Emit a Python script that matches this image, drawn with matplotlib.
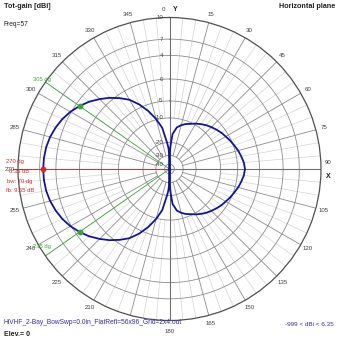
import numpy as np
import matplotlib
matplotlib.use("Agg")
import matplotlib.pyplot as plt

plt.rcParams['font.family'] = ['Liberation Sans', 'DejaVu Sans']

# ---- radiation pattern (horizontal plane, total gain in dBi) ----
azimuth_deg = [0, 1, 2, 3, 5, 10, 15, 20, 25, 30, 35, 40, 45, 50, 55, 60, 65, 70, 75, 80, 85,
               90, 95, 100, 105, 110, 115, 120, 125, 130, 135, 140, 145, 150, 155, 160, 165,
               170, 175, 177, 178, 179, 180, 181, 182, 183, 185, 190, 195, 200, 205, 210,
               215, 220, 225, 230, 235, 240, 245, 250, 255, 260, 265, 270, 275, 280, 285,
               290, 295, 300, 305, 310, 315, 320, 325, 330, 335, 340, 345, 350, 355, 357,
               358, 359, 360]
gain_dbi = [-999, -30, -24.5, -21, -16.5, -13.6, -12.3, -11.3, -10.5, -9.6, -8.9, -8.2, -7.6,
            -7.0, -6.4, -5.9, -5.3, -4.8, -4.3, -3.9, -3.5,
            -3.3, -3.5, -3.9, -4.3, -4.8, -5.3, -5.9, -6.4, -7.0, -7.6, -8.2, -8.9, -9.6,
            -10.5, -11.3, -12.3, -13.6, -16.5, -21, -24.5, -30, -999, -33, -27, -24, -20.5,
            -13.8, -9.8, -6.9, -4.3, -2.3, -0.8, 0.5, 1.5, 2.5, 3.35, 4.15, 4.85, 5.4, 5.85,
            6.15, 6.3, 6.35, 6.3, 6.15, 5.85, 5.4, 4.85, 4.15, 3.35, 2.5, 1.5, 0.5, -0.8,
            -2.3, -4.3, -6.9, -9.8, -13.8, -20.5, -24, -27, -33, -999]

# radial grid levels and angle labels (195 sits under the file name)
ring_levels = [-40, -30, -20, -10, -5, 0, 4, 7, 10]
ring_labels = ['-40', '-30', '-20', '-10', '-5', '0', '4', '7', '10']
angle_ticks = [a for a in range(0, 360, 15) if a != 195]

freq_mhz = 57
file_name = "HiVHF_2-Bay_BowSwp=0.0in_FlatRefl=56x96_Grid=2x4.out"
elevation = 0

# log-like radial scale: dBi level -> fraction of plot radius
SCALE_DB = [-999, -40, -30, -20, -10, -5, 0, 4, 7, 10]
SCALE_FR = [0.0, 0.032, 0.09, 0.175, 0.337, 0.449, 0.594, 0.75, 0.857, 1.0]


def fwd(v):
    return np.interp(v, SCALE_DB, SCALE_FR)


def inv(v):
    return np.interp(v, SCALE_FR, SCALE_DB)


gain = np.array(gain_dbi)
theta = np.radians(azimuth_deg)
peak_i = int(np.argmax(gain))
peak_gain = gain[peak_i]
peak_az = azimuth_deg[peak_i]
half_pts = [a for a, g in zip(azimuth_deg, gain_dbi) if abs(g - (peak_gain - 3.0)) < 1e-6]
beamwidth = max(half_pts) - min(half_pts)
back_gain = gain[azimuth_deg.index((peak_az + 180) % 360)]
front_back = peak_gain - back_gain

W = H = 339
fig = plt.figure(figsize=(W / 100, H / 100), dpi=100)
cx, cy, R = 169.5, 169.0, 151.5
ax = fig.add_axes([(cx - R) / W, (H - cy - R) / H, 2 * R / W, 2 * R / H], projection='polar')
ax.set_theta_zero_location('N')
ax.set_theta_direction(-1)
ax.set_rscale('function', functions=(fwd, inv))
ax.set_rlim(-999, 10)
ax.grid(False)
ax.set_xticks([])
ax.set_yticks([])
ax.spines['polar'].set_color('#505050')
ax.spines['polar'].set_linewidth(0.9)

full = np.linspace(0, 2 * np.pi, 361)
for lvl in ring_levels[:-1]:
    ax.plot(full, np.full_like(full, lvl), color='#8c8c8c', lw=0.6, zorder=1)

# minor spokes every 5 deg, major every 15 deg
for a in range(0, 360, 5):
    t = np.radians(a)
    if a % 15:
        ax.plot([t, t], [-10, 10], color='#d4d4d4', lw=0.5, zorder=0.5)
    elif a not in (0, 90, 180, 270):
        ax.plot([t, t], [-30, 10], color='#8c8c8c', lw=0.6, zorder=1)
for a in (0, 90, 180):
    t = np.radians(a)
    ax.plot([t, t], [-999, 10], color='#707070', lw=0.8, zorder=1.2)

# direction of maximum and beamwidth lines
red = '#d42a2a'
green = '#3aa53a'
ax.plot([np.radians(peak_az)] * 2, [-999, 10], color=red, lw=0.7, zorder=2)
# short overshoot of the maximum line past the rim
ax.plot([0.0, -0.018], [0.5, 0.5], transform=ax.transAxes, color=red, lw=0.7,
        zorder=2, clip_on=False)
for a in half_pts:
    ax.plot([np.radians(a)] * 2, [-999, 10], color=green, lw=0.6, zorder=2)

# the pattern
ax.plot(theta, gain, color='#14149a', lw=1.3, zorder=3)
ax.plot(np.radians(peak_az), peak_gain, 'o', color=red, ms=3.2, zorder=4)
for a in half_pts:
    ax.plot(np.radians(a), peak_gain - 3.0, 'o', color=green, ms=3.2, zorder=4)

# ring value labels left of the vertical axis
for lvl, lab in zip(ring_levels, ring_labels):
    fr = fwd(lvl)
    ax.text(0.5 - 6 / (2 * R), 0.5 + 0.5 * fr, lab, transform=ax.transAxes,
            ha='right', va='center', fontsize=4.4, color='#404040', zorder=5)

# angle labels round the rim
k = 1.055
for a in angle_ticks:
    t = np.radians(a)
    kk = 1.075 if a == 180 else k
    x, y = 0.5 + 0.5 * kk * np.sin(t), 0.5 + 0.5 * kk * np.cos(t)
    if a == 0:
        ax.text(x - 0.02, y, '0', transform=ax.transAxes, ha='center', va='center',
                fontsize=4.4, color='#404040')
        ax.text(x + 0.018, y, 'Y', transform=ax.transAxes, ha='center', va='center',
                fontsize=5, color='#202020', fontweight='bold')
    elif a == 90:
        ax.text(x - 0.005, y + 0.02, '90', transform=ax.transAxes, ha='center', va='center',
                fontsize=4.4, color='#404040')
        ax.text(x - 0.005, y - 0.026, 'X', transform=ax.transAxes, ha='center', va='center',
                fontsize=5, color='#202020', fontweight='bold')
    else:
        ax.text(x, y, str(a), transform=ax.transAxes, ha='center', va='center',
                fontsize=4.4, color='#404040', clip_on=False, zorder=5)


def fpx(x, y):
    return x / W, 1 - y / H


# beamwidth edge labels
for a in half_pts:
    t = np.radians(a)
    x, y = 0.5 + 0.5 * 1.0 * np.sin(t), 0.5 + 0.5 * 1.0 * np.cos(t)
    ax.text(x - 0.01, y + (0.01 if np.cos(t) > 0 else 0.03), f'{a} dg', transform=ax.transAxes,
            ha='center', va='center', fontsize=4.2, color=green, zorder=6)

# peak info block
info = [f'{peak_az} dg', f'{peak_gain:.2f} dB', f'bw: {beamwidth} dg', f'fb: {front_back:.2f} dB']
info_y = [161.5, 171.5, 181, 190.5]
info_x = [6, 9, 7, 6]
for s, xx, yy in zip(info, info_x, info_y):
    fig.text(*fpx(xx, yy), s, ha='left', va='center', fontsize=4.2, color=red, zorder=7)

# headers and footers
fig.text(*fpx(4, 7), 'Tot-gain [dBi]', ha='left', va='center', fontsize=5.2, fontweight='bold', color='#202020')
fig.text(*fpx(4, 25), f'Freq={freq_mhz}', ha='left', va='center', fontsize=4.8, color='#202020')
fig.text(*fpx(335, 7), 'Horizontal plane', ha='right', va='center', fontsize=5.2, fontweight='bold', color='#202020')
fig.text(*fpx(3, 322), file_name, ha='left', va='center', fontsize=4.8, color='#3030a8', zorder=8)
fig.text(*fpx(4, 334), f'Elev.= {elevation}', ha='left', va='center', fontsize=5.0, fontweight='bold', color='#202020')
fig.text(*fpx(334, 324), f'-999 < dBi < {peak_gain:.2f}', ha='right', va='center', fontsize=4.6, color='#3030a8')

fig.savefig('out.png', dpi=100, facecolor='white')
